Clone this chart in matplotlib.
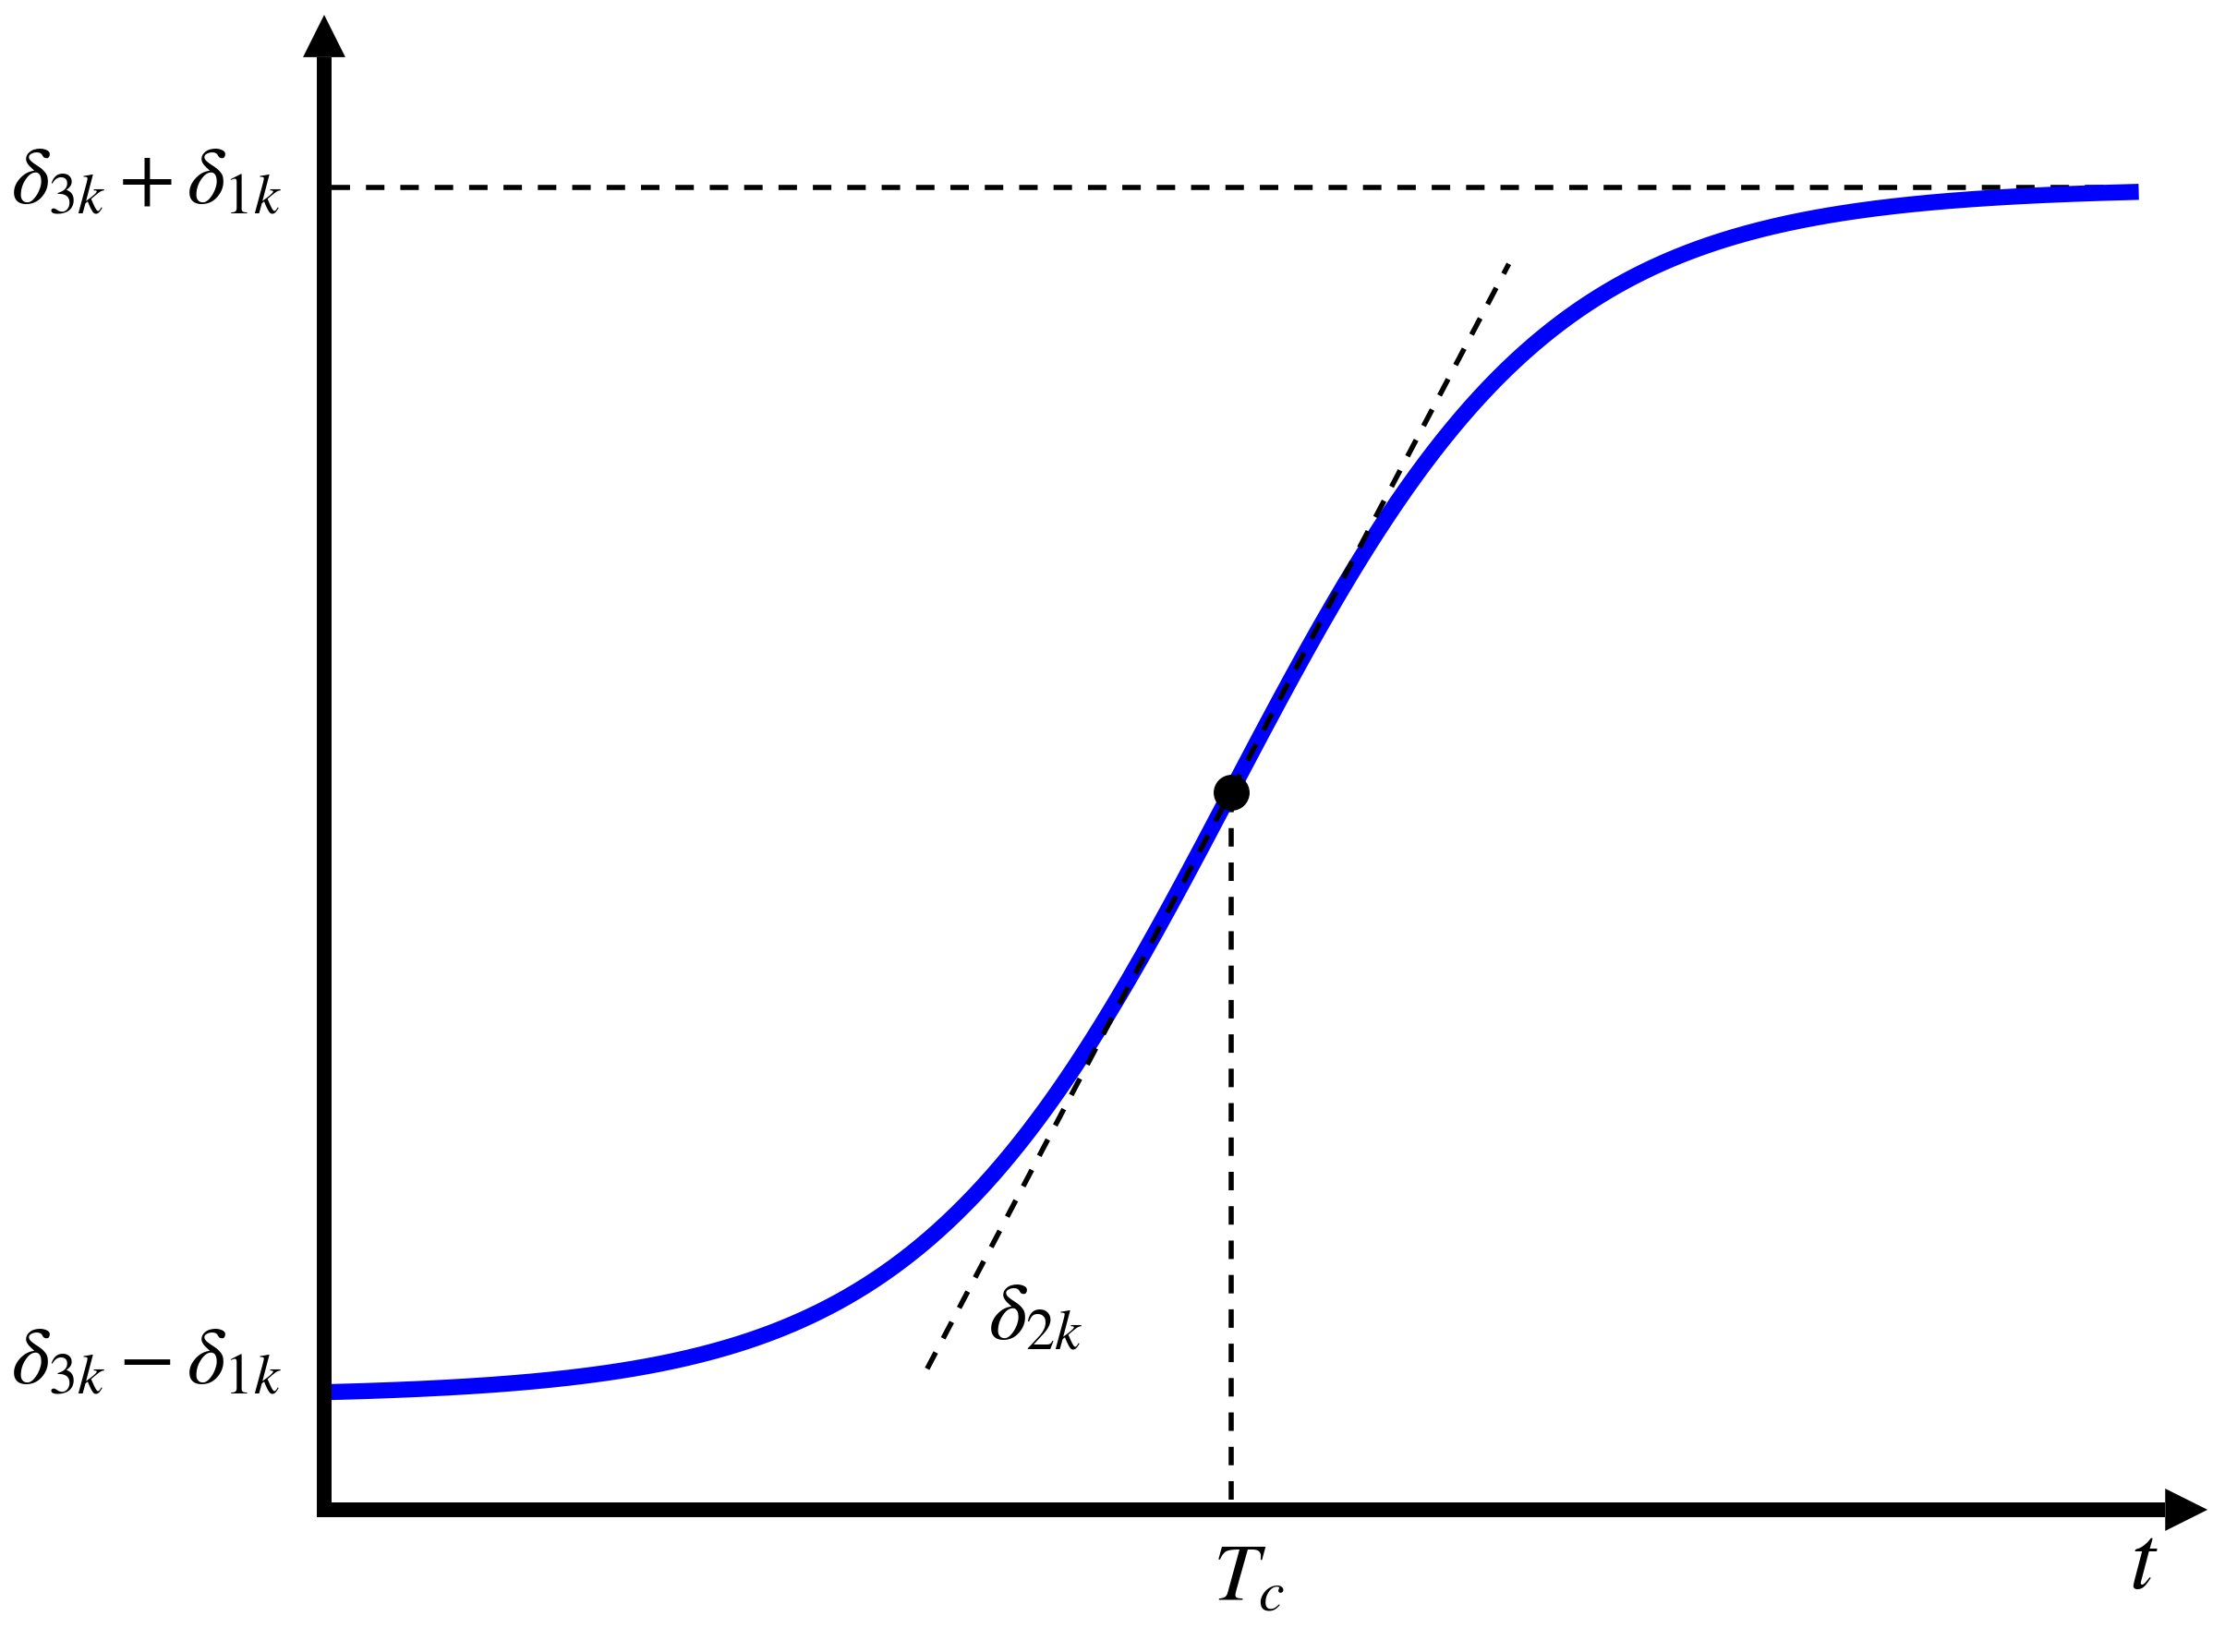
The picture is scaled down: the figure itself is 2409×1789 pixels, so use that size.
import numpy as np
import matplotlib
matplotlib.use("Agg")
import matplotlib.pyplot as plt

plt.rcParams['mathtext.fontset'] = 'stix'

# sigmoid parameters (axis units)
delta3 = 5.06      # midpoint level
delta1 = 4.26      # half amplitude
delta2 = 1.90      # slope at the inflection point
Tc = 6.39          # inflection time
t_start, t_end = 0.0, 12.79
tangent_t = [4.25, 8.35]

# labels
lbl_top = r'$\delta_{3k}+\delta_{1k}$'
lbl_bot = r'$\delta_{3k}-\delta_{1k}$'
lbl_slope = r'$\delta_{2k}$'
lbl_tc = r'$T_c$'
lbl_t = r'$t$'

t = np.linspace(t_start, t_end, 400)
k = delta2 / delta1
y = delta3 + delta1 * np.tanh(k * (t - Tc))

fig = plt.figure(figsize=(24.09, 17.90), dpi=100)
ax = fig.add_axes([0, 0, 1, 1])
ax.set_xlim(-2.285, 13.398)
ax.set_ylim(-1.003, 10.651)
ax.axis('off')

# axes with arrow heads
x_tip, y_tip = 13.275, 10.54
head = 0.30
ax.plot([0, 0, x_tip - head], [y_tip - head, 0, 0], color='k', lw=11.5,
        solid_joinstyle='miter', solid_capstyle='butt', zorder=5)
for xy, xyt in [((x_tip, 0), (x_tip - head, 0)), ((0, y_tip), (0, y_tip - head))]:
    ax.annotate('', xy=xy, xytext=xyt,
                arrowprops=dict(arrowstyle='-|>,head_length=33,head_width=16.5',
                                mutation_scale=1, lw=0, color='k',
                                shrinkA=0, shrinkB=0), zorder=5)

# dashed guides
dash = dict(color='k', lw=4, dashes=(3.6, 3.1))
ax.plot([0.05, t_end], [delta3 + delta1, delta3 + delta1], **dash)
ax.plot([Tc, Tc], [0.07, delta3], **dash)
tt = np.array(tangent_t)
ax.plot(tt, delta3 + delta2 * (tt - Tc), zorder=4, **dash)

# sigmoid
ax.plot(t, y, color='#0000ff', lw=12.5, solid_capstyle='butt', zorder=3)
ax.plot([Tc], [delta3], 'o', color='k', ms=27, zorder=6)

fs = 64
ax.text(-0.30, 9.22, lbl_top, fontsize=fs, ha='right', va='baseline')
ax.text(-0.30, 0.90, lbl_bot, fontsize=fs, ha='right', va='baseline')
ax.text(4.68, 1.21, lbl_slope, fontsize=fs, ha='left', va='baseline')
ax.text(6.26, -0.63, lbl_tc, fontsize=fs, ha='left', va='baseline')
ax.text(12.72, -0.55, lbl_t, fontsize=72, ha='left', va='baseline')

fig.savefig('out.png', dpi=100)
